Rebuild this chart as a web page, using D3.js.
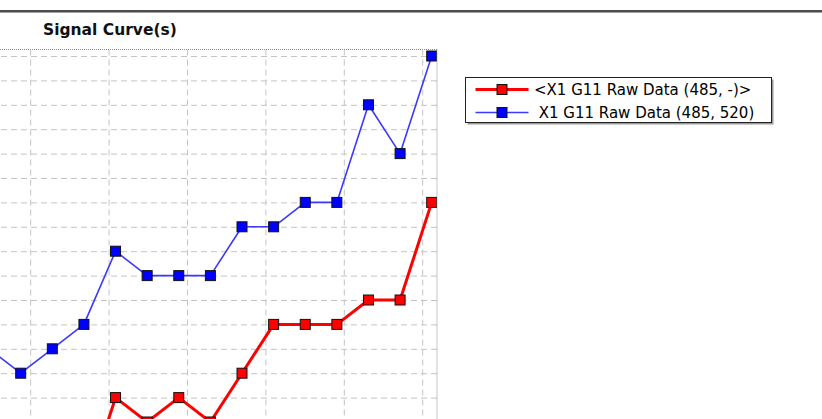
<!DOCTYPE html>
<html>
<head>
<meta charset="utf-8">
<script src="https://cdn.jsdelivr.net/npm/d3@7"></script>
<style>
  html, body { margin: 0; padding: 0; background: #ffffff; }
  svg { display: block; }
</style>
</head>
<body>
<svg id="chart" width="822" height="419"></svg>
<script>
// Cycle numbers of the measurements
const cycles = [1, 2, 3, 4, 5, 6, 7, 8, 9, 10, 11, 12, 13, 14, 15];

// Raw signal, single wavelength pair (485, -)
const rawSingle = [500, 600, 600, 700, 1100, 1000, 1100, 1000, 1200, 1400, 1400, 1400, 1500, 1500, 1900];

// Raw signal, wavelength pair (485, 520)
const rawPair = [1300, 1200, 1300, 1400, 1700, 1600, 1600, 1600, 1800, 1800, 1900, 1900, 2300, 2100, 2500];

// Grid positions in data units
const xGridTicks = [2.3, 4.78, 7.26, 9.74, 12.22, 14.7];
const yGridTicks = [900, 1000, 1100, 1200, 1300, 1400, 1500, 1600, 1700, 1800, 1900, 2000, 2100, 2200, 2300, 2400, 2500];

const seriesNames = ["<X1 G11 Raw Data (485, -)>", " X1 G11 Raw Data (485, 520)"];
const seriesColors = ["#ff0000", "#0000ff"];
const lineColors = ["#ff0000", "#3a3aff"];
const lineWidths = [3, 1.6];
const titleText = "Signal Curve(s)";

const svg = d3.select("#chart");

// Plot frame
const plot = { left: -60, right: 437, top: 49.5, bottom: 520 };

const x = d3.scaleLinear().domain([2, 15]).range([20.7, 431.7]);
const y = d3.scaleLinear().domain([1000, 2500]).range([422, 56]);

// Header rule and title
svg.append("rect").attr("x", 0).attr("y", 10).attr("width", 822).attr("height", 2).attr("fill", "#4d4d4d");
svg.append("rect").attr("x", 0).attr("y", 12).attr("width", 822).attr("height", 1).attr("fill", "#a0a0a0");
svg.append("text")
  .attr("x", 43).attr("y", 35)
  .attr("font-family", "DejaVu Sans, Verdana, sans-serif")
  .attr("font-weight", "bold")
  .attr("font-size", 15.5)
  .attr("fill", "#111")
  .text(titleText);

svg.append("defs").append("clipPath").attr("id", "plotClip")
  .append("rect")
  .attr("x", plot.left).attr("y", plot.top)
  .attr("width", plot.right - plot.left).attr("height", plot.bottom - plot.top);

const g = svg.append("g").attr("clip-path", "url(#plotClip)");

// Dashed grid drawn through d3 axes
const gridStyle = sel => {
  sel.select(".domain").remove();
  sel.selectAll(".tick text").remove();
  sel.selectAll(".tick line")
    .attr("stroke", "#c4c4c4")
    .attr("stroke-width", 1)
    .attr("stroke-dasharray", "6,4");
};

g.append("g")
  .attr("transform", `translate(0,${plot.top})`)
  .call(d3.axisBottom(x).tickValues(xGridTicks).tickSize(plot.bottom - plot.top).tickFormat(""))
  .call(gridStyle);

g.append("g")
  .attr("transform", `translate(${plot.right},0)`)
  .call(d3.axisLeft(y).tickValues(yGridTicks).tickSize(plot.right - plot.left).tickFormat(""))
  .call(gridStyle);

// Dotted frame (top and right)
svg.append("line")
  .attr("x1", 0).attr("x2", plot.right).attr("y1", plot.top).attr("y2", plot.top)
  .attr("stroke", "#8a8a8a").attr("stroke-width", 1).attr("stroke-dasharray", "1,1");
svg.append("line")
  .attr("x1", plot.right).attr("x2", plot.right).attr("y1", plot.top).attr("y2", 419)
  .attr("stroke", "#8a8a8a").attr("stroke-width", 1).attr("stroke-dasharray", "1,1");

// Series
const series = [rawSingle, rawPair];
const line = d3.line().x((d, i) => x(cycles[i])).y(d => y(d));
const markerSize = 10;

series.forEach((vals, s) => {
  g.append("path")
    .datum(vals)
    .attr("fill", "none")
    .attr("stroke", lineColors[s])
    .attr("stroke-width", lineWidths[s])
    .attr("stroke-linejoin", "round")
    .attr("d", line);
});

series.forEach((vals, s) => {
  g.selectAll(null)
    .data(vals)
    .join("rect")
    .attr("x", (d, i) => x(cycles[i]) - markerSize / 2)
    .attr("y", d => y(d) - markerSize / 2)
    .attr("width", markerSize)
    .attr("height", markerSize)
    .attr("fill", seriesColors[s])
    .attr("stroke", "#111")
    .attr("stroke-width", 1);
});

// Legend
const legend = svg.append("g").attr("transform", "translate(465.5,77.5)");
const lw = 306, lh = 45;
legend.append("rect").attr("x", 2).attr("y", 2).attr("width", lw).attr("height", lh).attr("fill", "#9a9a9a");
legend.append("rect").attr("x", 0).attr("y", 0).attr("width", lw).attr("height", lh)
  .attr("fill", "#ffffff").attr("stroke", "#222").attr("stroke-width", 1);

seriesNames.forEach((name, s) => {
  const row = legend.append("g").attr("transform", `translate(0,${12 + s * 23})`);
  row.append("line")
    .attr("x1", 10).attr("x2", 63).attr("y1", 0).attr("y2", 0)
    .attr("stroke", lineColors[s]).attr("stroke-width", lineWidths[s]);
  row.append("rect")
    .attr("x", 36.5 - markerSize / 2).attr("y", -markerSize / 2)
    .attr("width", markerSize).attr("height", markerSize)
    .attr("fill", seriesColors[s]).attr("stroke", "#111").attr("stroke-width", 1);
  row.append("text")
    .attr("x", 68.5).attr("y", 5.5)
    .attr("font-family", "DejaVu Sans, Verdana, sans-serif")
    .attr("font-size", 15)
    .attr("fill", "#000")
    .attr("xml:space", "preserve")
    .style("white-space", "pre")
    .text(name);
});
</script>
</body>
</html>
